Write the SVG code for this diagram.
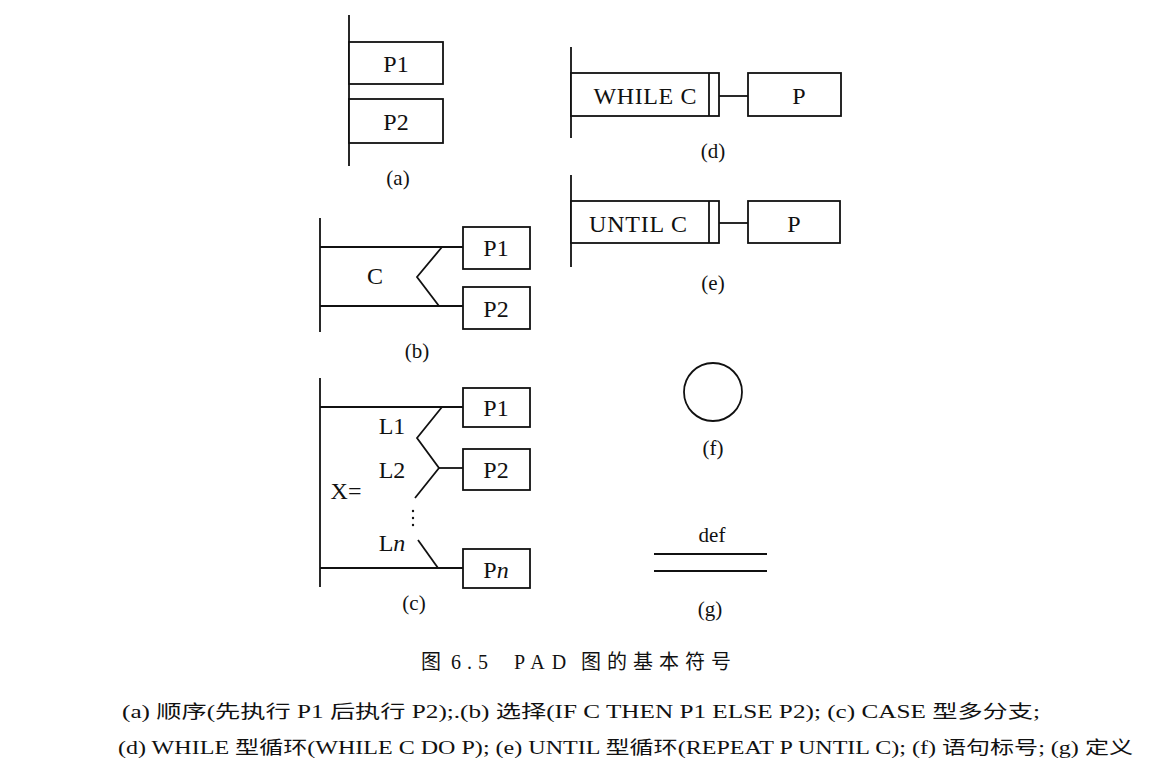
<svg xmlns="http://www.w3.org/2000/svg" width="1153" height="771" viewBox="0 0 1153 771">
<style>
.ln{stroke:#111;stroke-width:1.8;fill:none}
.bx{stroke:#111;stroke-width:1.8;fill:#fff}
.t{font-family:"Liberation Serif","Noto Sans CJK SC",serif;fill:#111;font-size:24px;text-anchor:middle}
.lb{font-family:"Liberation Serif","Noto Sans CJK SC",serif;fill:#111;font-size:21px;text-anchor:middle}
.cap{font-family:"Liberation Serif","Noto Sans CJK SC",serif;fill:#111;font-size:18px}
.ttl{font-family:"Liberation Serif","Noto Sans CJK SC",serif;fill:#111;font-size:20px}
</style>
<rect width="1153" height="771" fill="#fff"/>
<g id="connectors">
<line class="ln" x1="349" y1="15" x2="349" y2="166"/>
<line class="ln" x1="320" y1="218" x2="320" y2="332"/>
<line class="ln" x1="320" y1="247" x2="463" y2="247"/>
<line class="ln" x1="320" y1="306" x2="463" y2="306"/>
<polyline class="ln" points="442,247 417,277 439,306"/>
<line class="ln" x1="320" y1="378" x2="320" y2="587"/>
<line class="ln" x1="320" y1="407" x2="463" y2="407"/>
<line class="ln" x1="320" y1="568" x2="463" y2="568"/>
<polyline class="ln" points="442,407 417,438 439,468 415,498"/>
<line class="ln" x1="439" y1="468" x2="463" y2="468"/>
<line class="ln" x1="418" y1="540" x2="438" y2="568"/>
<line class="ln" x1="571" y1="47" x2="571" y2="138"/>
<line class="ln" x1="719" y1="96" x2="748" y2="96"/>
<line class="ln" x1="571" y1="175" x2="571" y2="267"/>
<line class="ln" x1="719" y1="223" x2="748" y2="223"/>
</g>
<g id="a">
<rect class="bx" x="349" y="42" width="94" height="42"/>
<text class="t" x="396" y="72">P1</text>
<rect class="bx" x="349" y="99" width="94" height="44"/>
<text class="t" x="396" y="130">P2</text>
<text class="lb" x="398" y="185">(a)</text>
</g>
<g id="b">
<rect class="bx" x="463" y="227" width="67" height="42"/>
<text class="t" x="496" y="256">P1</text>
<rect class="bx" x="463" y="287" width="67" height="42"/>
<text class="t" x="496" y="317">P2</text>
<text class="t" x="375" y="284">C</text>
<text class="lb" x="417" y="358">(b)</text>
</g>
<g id="c">
<rect class="bx" x="463" y="388" width="67" height="39"/>
<text class="t" x="496" y="416">P1</text>
<rect class="bx" x="463" y="449" width="67" height="41"/>
<text class="t" x="496" y="478">P2</text>
<rect class="bx" x="463" y="549" width="67" height="39"/>
<text class="t" x="496" y="578">P<tspan font-style="italic">n</tspan></text>
<text class="t" x="392" y="434">L1</text>
<text class="t" x="392" y="478">L2</text>
<text class="t" x="346" y="499">X=</text>
<text class="t" x="392" y="551">L<tspan font-style="italic">n</tspan></text>
<circle cx="413" cy="511" r="1.2" fill="#111"/>
<circle cx="413" cy="518" r="1.2" fill="#111"/>
<circle cx="413" cy="525" r="1.2" fill="#111"/>
<text class="lb" x="414" y="610">(c)</text>
</g>
<g id="d">
<rect class="bx" x="571" y="73" width="148" height="43"/>
<line class="ln" x1="709" y1="73" x2="709" y2="116"/>
<text class="t" x="645" y="104" textLength="103" lengthAdjust="spacing">WHILE C</text>
<rect class="bx" x="748" y="73" width="93" height="43"/>
<text class="t" x="799" y="104">P</text>
<text class="lb" x="713" y="158">(d)</text>
</g>
<g id="e">
<rect class="bx" x="571" y="201" width="148" height="42"/>
<line class="ln" x1="709" y1="201" x2="709" y2="243"/>
<text class="t" x="638" y="232" textLength="98" lengthAdjust="spacing">UNTIL C</text>
<rect class="bx" x="748" y="201" width="92" height="42"/>
<text class="t" x="794" y="232">P</text>
<text class="lb" x="713" y="290">(e)</text>
</g>
<g id="f">
<circle class="ln" cx="713" cy="392" r="29"/>
<text class="lb" x="713" y="455">(f)</text>
</g>
<g id="g">
<text class="lb" x="712" y="542">def</text>
<line class="ln" x1="654" y1="554" x2="767" y2="554"/>
<line class="ln" x1="654" y1="571" x2="767" y2="571"/>
<text class="lb" x="710" y="616">(g)</text>
</g>
<g id="caption">
<text class="ttl" x="421" y="669">图 <tspan x="451" letter-spacing="6">6.5</tspan> <tspan x="514" letter-spacing="7">PAD</tspan> <tspan x="581" letter-spacing="6">图的基本符号</tspan></text>
<text class="cap" x="122" y="718" textLength="918" lengthAdjust="spacingAndGlyphs">(a) 顺序(先执行 P1 后执行 P2);.(b) 选择(IF C THEN P1 ELSE P2); (c) CASE 型多分支;</text>
<text class="cap" x="118" y="754" textLength="1015" lengthAdjust="spacingAndGlyphs">(d) WHILE 型循环(WHILE C DO P); (e) UNTIL 型循环(REPEAT P UNTIL C); (f) 语句标号; (g) 定义</text>
</g>
</svg>
